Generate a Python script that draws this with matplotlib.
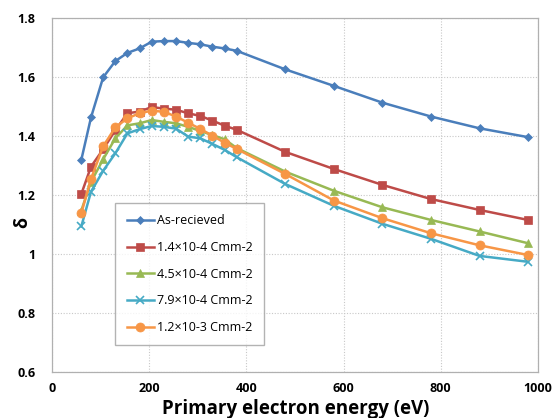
import matplotlib
matplotlib.use("Agg")
import matplotlib.pyplot as plt
from matplotlib.ticker import FuncFormatter

plt.rcParams['font.family'] = ['Open Sans', 'DejaVu Sans']

# Primary electron energy (eV)
energy = [60, 80, 105, 130, 155, 180, 205, 230, 255, 280, 305, 330, 355, 380,
          480, 580, 680, 780, 880, 980]

# Secondary electron yield for each surface condition
as_received = [1.32, 1.464, 1.60, 1.655, 1.683, 1.698, 1.721, 1.723, 1.723, 1.717,
               1.712, 1.704, 1.698, 1.69, 1.627, 1.571, 1.514, 1.467, 1.427, 1.397]
dose_1_4e4 = [1.204, 1.297, 1.356, 1.42, 1.478, 1.484, 1.499, 1.494, 1.49, 1.478,
              1.469, 1.453, 1.436, 1.422, 1.347, 1.289, 1.235, 1.187, 1.15, 1.116]
dose_4_5e4 = [1.148, 1.245, 1.322, 1.393, 1.437, 1.444, 1.455, 1.449, 1.444, 1.432,
              1.418, 1.404, 1.39, 1.36, 1.28, 1.215, 1.159, 1.116, 1.077, 1.037]
dose_7_9e4 = [1.094, 1.212, 1.283, 1.342, 1.41, 1.424, 1.435, 1.432, 1.426, 1.399,
              1.393, 1.374, 1.354, 1.329, 1.238, 1.164, 1.103, 1.052, 0.994, 0.974]
dose_1_2e3 = [1.139, 1.255, 1.366, 1.43, 1.461, 1.478, 1.487, 1.483, 1.467, 1.446,
              1.425, 1.402, 1.378, 1.357, 1.272, 1.182, 1.122, 1.071, 1.03, 0.997]

labels = ["As-recieved", "1.4×10-4 Cmm-2", "4.5×10-4 Cmm-2",
          "7.9×10-4 Cmm-2", "1.2×10-3 Cmm-2"]
series = [as_received, dose_1_4e4, dose_4_5e4, dose_7_9e4, dose_1_2e3]
colors = ["#4A7EBB", "#BE4B48", "#98B954", "#46AAC5", "#F79646"]
markers = ["D", "s", "^", "x", "o"]
msizes = [4, 5.5, 6, 6, 6.5]

W, H = 555, 418
fig = plt.figure(figsize=(W / 100, H / 100), dpi=100)
ax = fig.add_axes([0.094, 0.11, 0.875, 0.846])

for y, lab, c, m, ms in zip(series, labels, colors, markers, msizes):
    ax.plot(energy, y, color=c, marker=m, markersize=ms, linewidth=1.8,
            markeredgewidth=1.2 if m == "x" else 0.5, markeredgecolor=c,
            label=lab)

ax.set_xlim(0, 1000)
ax.set_ylim(0.6, 1.8)
ax.set_xticks([0, 200, 400, 600, 800, 1000])
ax.set_yticks([0.6, 0.8, 1.0, 1.2, 1.4, 1.6, 1.8])
ax.yaxis.set_major_formatter(FuncFormatter(lambda v, p: f"{v:g}"))
ax.tick_params(axis="y", length=0, pad=12, labelsize=9)
ax.tick_params(axis="x", length=0, pad=7, labelsize=9)
for t in ax.get_xticklabels() + ax.get_yticklabels():
    t.set_fontweight("bold")

ax.grid(True, color="#C8C8C8", linestyle=(0, (1, 1.5)), linewidth=0.8)
ax.set_axisbelow(True)
for s in ax.spines.values():
    s.set_color("#B0B0B0")
    s.set_linewidth(0.9)

# axis titles placed in figure pixels
fig.text(296 / W, 1 - 409 / H, "Primary electron energy (eV)", fontsize=13.5,
         fontweight="bold", ha="center", va="center")
fig.text(22 / W, 1 - 222 / H, "δ", fontsize=13, fontweight="bold",
         rotation=90, ha="center", va="center")

leg = ax.legend(loc="upper left", bbox_to_anchor=(0.13, 0.478), fontsize=9,
                frameon=True, fancybox=False, handlelength=2.2,
                handletextpad=0.2, labelspacing=1.1, borderpad=0.9,
                borderaxespad=0)
leg.get_frame().set_edgecolor("#A0A0A0")
leg.get_frame().set_linewidth(1.0)

fig.savefig("out.png", dpi=100)
